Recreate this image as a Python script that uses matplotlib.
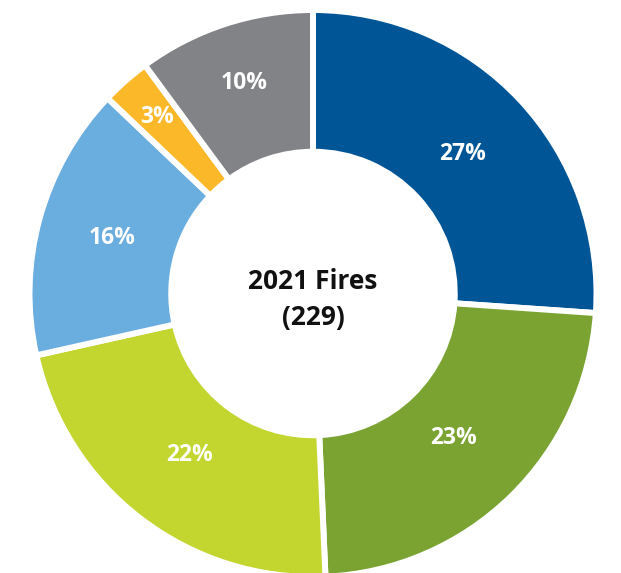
import matplotlib
matplotlib.use("Agg")
import matplotlib.pyplot as plt
import numpy as np

categories = ["Category A", "Category B", "Category C", "Category D", "Category E", "Category F"]
shares = [26.1, 23.2, 22.2, 15.6, 2.8, 10.1]
labels = ["27%", "23%", "22%", "16%", "3%", "10%"]
colors = ["#005596", "#7aa332", "#c3d52f", "#6aaddf", "#fbb829", "#828387"]
center_title = "2021 Fires\n(229)"

label_r = [0.723, 0.711, 0.716, 0.734, 0.832, 0.781]

W, H = 621, 573
fig = plt.figure(figsize=(W / 100, H / 100), dpi=100)
ax = fig.add_axes([0, 0, 1, 1])
ax.set_xlim(0, W)
ax.set_ylim(0, H)
ax.set_aspect("equal")
ax.axis("off")

cx, cy, R = 313.0, H - 293.5, 283.5
wedges, _ = ax.pie(shares, colors=colors, startangle=90, counterclock=False,
                   radius=R, center=(cx, cy),
                   wedgeprops=dict(width=R * 0.5, edgecolor="white", linewidth=4.3))
ax.set_xlim(0, W)
ax.set_ylim(0, H)

for w, lab, rf in zip(wedges, labels, label_r):
    ang = np.deg2rad((w.theta1 + w.theta2) / 2)
    x = cx + R * rf * np.cos(ang)
    y = cy + R * rf * np.sin(ang)
    ax.text(x, y, lab, ha="center", va="center", color="white",
            fontsize=16.5, fontweight="bold", family="Open Sans")

ax.text(cx, cy - 6, center_title, ha="center", va="center", color="#111111",
        fontsize=19, fontweight="bold", family="Open Sans", linespacing=1.4)

fig.savefig("out.png", dpi=100)
